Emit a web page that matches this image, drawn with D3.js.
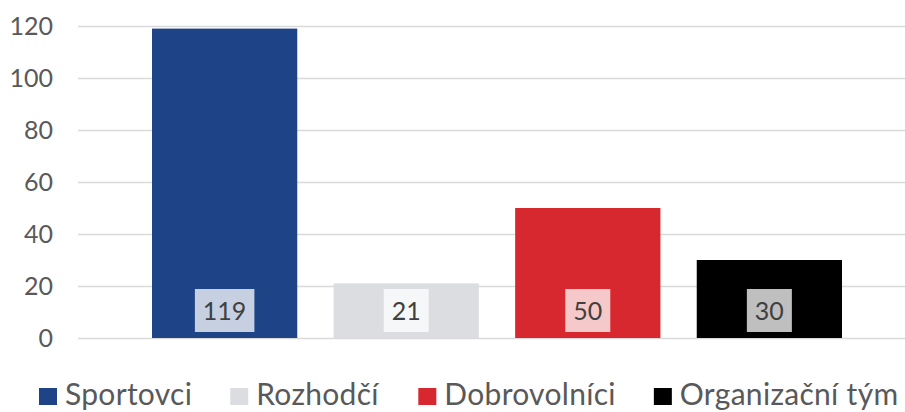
<!DOCTYPE html>
<html>
<head>
<meta charset="utf-8">
<script src="https://cdn.jsdelivr.net/npm/d3@7"></script>
<style>
  html, body { margin: 0; padding: 0; background: #fff; }
  svg { display: block; font-family: Lato, "Open Sans", sans-serif; }
</style>
</head>
<body>
<svg id="chart" width="905" height="412"></svg>
<script>
const categories = ["Sportovci", "Rozhodčí", "Dobrovolníci", "Organizační tým"];
const values = [119, 21, 50, 30];
const colors = ["#1f4387", "#dcdde1", "#d7282f", "#000000"];
const yTicks = [0, 20, 40, 60, 80, 100, 120];

const svg = d3.select("#chart");
const W = 905, H = 412;
const plotLeft = 78, plotRight = 905;

const y = d3.scaleLinear().domain([0, 120]).range([338, 26]);
const x = d3.scaleBand().domain(categories).range([152, 842]).paddingInner(0.2).paddingOuter(0);

// gridlines
svg.append("g").selectAll("line").data(yTicks).join("line")
  .attr("x1", plotLeft).attr("x2", plotRight)
  .attr("y1", d => Math.round(y(d)) + 0.5).attr("y2", d => Math.round(y(d)) + 0.5)
  .attr("stroke", "#d9d9d9").attr("stroke-width", 1.5);

// y axis labels
const yAxis = d3.axisLeft(y).tickValues(yTicks).tickSize(0).tickPadding(0);
const ya = svg.append("g").attr("transform", "translate(53,0)").call(yAxis);
ya.select(".domain").remove();
ya.selectAll("text").attr("fill", "#595959").attr("font-size", 25).attr("font-family", "Lato, 'Open Sans', sans-serif");

// bars
svg.append("g").selectAll("rect").data(categories).join("rect")
  .attr("x", d => x(d)).attr("width", x.bandwidth())
  .attr("y", (d, i) => y(values[i])).attr("height", (d, i) => y(0) - y(values[i]))
  .attr("fill", (d, i) => colors[i]);

// data labels
const lg = svg.append("g").selectAll("g").data(categories).join("g");
lg.each(function(d, i) {
  const g = d3.select(this);
  const cx = x(d) + x.bandwidth() / 2;
  const t = g.append("text").attr("x", cx).attr("y", 319.5)
    .attr("text-anchor", "middle").attr("font-size", 25).attr("fill", "#404040")
    .text(values[i]);
  const w = t.node().getComputedTextLength();
  g.insert("rect", "text")
    .attr("x", cx - w / 2 - 8).attr("width", w + 16)
    .attr("y", 289).attr("height", 43)
    .attr("fill", "#ffffff").attr("fill-opacity", 0.75);
});

// legend
const legend = svg.append("g");
let lx = 39;
categories.forEach((c, i) => {
  legend.append("rect").attr("x", lx).attr("y", 388).attr("width", 18).attr("height", 17).attr("fill", colors[i]);
  const t = legend.append("text").attr("x", lx + 26).attr("y", 405)
    .attr("font-size", 30).attr("letter-spacing", 0.3).attr("fill", "#595959").text(c);
  lx += 26 + t.node().getBBox().width + 38;
});
</script>
</body>
</html>
